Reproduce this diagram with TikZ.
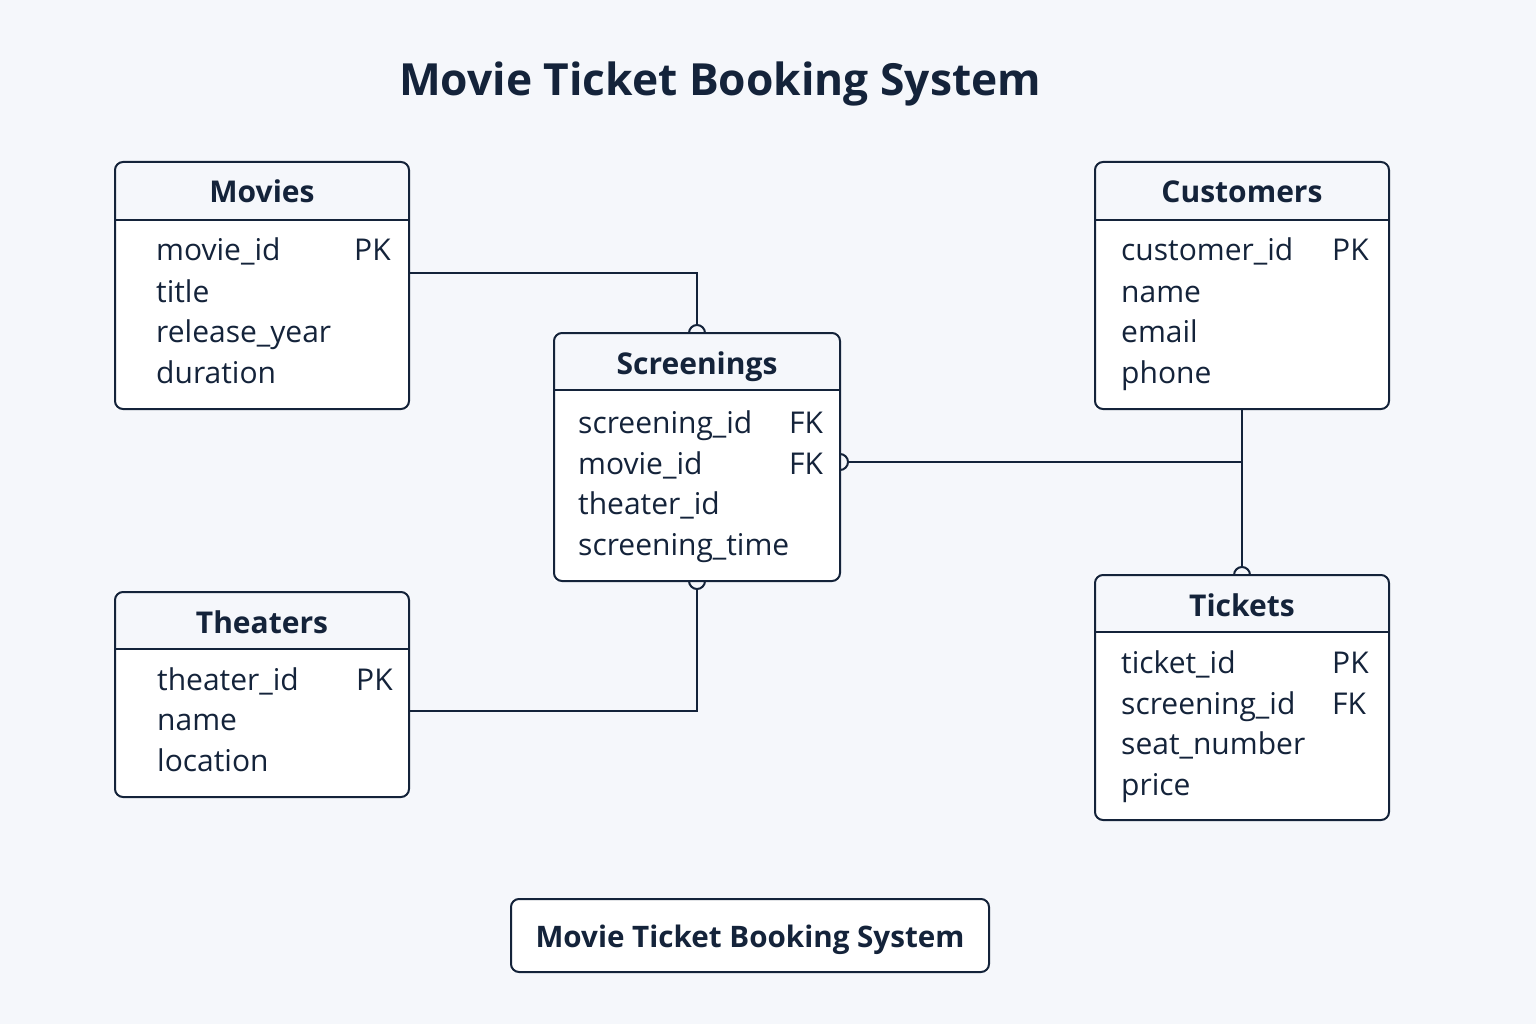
\documentclass[tikz,border=0pt]{standalone}
\usepackage{fontspec}
\setmainfont{Open Sans}
\definecolor{bgc}{HTML}{F5F7FB}
\definecolor{ink}{HTML}{14233A}
\tikzset{
  box/.style={rectangle, fill=white, inner sep=0pt, outer sep=0pt},
  edge/.style={draw=ink, line width=2pt},
  conn/.style={draw=ink, line width=2pt},
  fld/.style={text=ink, font=\fontsize{30}{34}\selectfont, inner sep=0pt, anchor=base west},
  hdr/.style={text=ink, font=\fontsize{30}{34}\selectfont\bfseries, inner sep=0pt, anchor=base},
}
\newcommand\erbox[6]{%
  \node[box, minimum width=#4pt, minimum height=#5pt] (#1) at (#2,-#3) {};
  \begin{scope}
    \clip[rounded corners=8pt] (#1.north west) rectangle (#1.south east);
    \fill[bgc] (#1.north west) rectangle ([yshift=-#6pt]#1.north east);
  \end{scope}
  \draw[edge] ([yshift=-#6pt]#1.north west) -- ([yshift=-#6pt]#1.north east);
  \draw[edge, rounded corners=8pt] (#1.north west) rectangle (#1.south east);
}
\begin{document}
\begin{tikzpicture}[x=1pt,y=1pt]
\fill[bgc] (0,0) rectangle (1536,-1024);
\useasboundingbox (0,0) rectangle (1536,-1024);

\node[hdr, font=\fontsize{44.3}{50}\selectfont\bfseries] (title) at (720,-96) {Movie Ticket Booking System};

% Movies
\erbox{movies}{262}{285.5}{294}{247}{58}
\node[hdr] (moviesT) at (262,-203) {Movies};
\node[fld] (m1) at (156,-261) {movie\_id};
\node[fld] (m1k) at (354,-261) {PK};
\node[fld] (m2) at (156,-302) {title};
\node[fld] (m3) at (156,-342) {release\_year};
\node[fld] (m4) at (156,-383) {duration};

% Customers
\erbox{customers}{1242}{285.5}{294}{247}{58}
\node[hdr] (customersT) at (1242,-203) {Customers};
\node[fld] (c1) at (1121,-261) {customer\_id};
\node[fld] (c1k) at (1332,-261) {PK};
\node[fld] (c2) at (1121,-302) {name};
\node[fld] (c3) at (1121,-342) {email};
\node[fld] (c4) at (1121,-383) {phone};

% Screenings
\erbox{screenings}{697}{457}{286}{248}{57}
\node[hdr] (screeningsT) at (697,-374) {Screenings};
\node[fld] (s1) at (578,-433) {screening\_id};
\node[fld] (s1k) at (789,-433) {FK};
\node[fld] (s2) at (578,-474) {movie\_id};
\node[fld] (s2k) at (789,-474) {FK};
\node[fld] (s3) at (578,-514) {theater\_id};
\node[fld] (s4) at (578,-555) {screening\_time};

% Theaters
\erbox{theaters}{262}{694.5}{294}{205}{57}
\node[hdr] (theatersT) at (262,-633) {Theaters};
\node[fld] (t1) at (157,-690) {theater\_id};
\node[fld] (t1k) at (356,-690) {PK};
\node[fld] (t2) at (157,-730) {name};
\node[fld] (t3) at (157,-771) {location};

% Tickets
\erbox{tickets}{1242}{697.5}{294}{245}{57}
\node[hdr] (ticketsT) at (1242,-616) {Tickets};
\node[fld] (k1) at (1121,-673) {ticket\_id};
\node[fld] (k1k) at (1332,-673) {PK};
\node[fld] (k2) at (1121,-714) {screening\_id};
\node[fld] (k2k) at (1332,-714) {FK};
\node[fld] (k3) at (1121,-754) {seat\_number};
\node[fld] (k4) at (1121,-795) {price};

% Footer
\node[box, minimum width=478pt, minimum height=73pt] (footer) at (750,-935.5) {};
\draw[edge, rounded corners=8pt] (footer.north west) rectangle (footer.south east);
\node[hdr, font=\fontsize{29.6}{34}\selectfont\bfseries] (footerT) at (750,-947) {Movie Ticket Booking System};

% Connectors
\draw[conn] ([yshift=12.5pt]movies.east) -| ([yshift=8pt]screenings.north);
\draw[conn] ([xshift=-8pt]screenings.north) arc[start angle=180, end angle=0, radius=8pt];

\draw[conn] ([yshift=-16.5pt]theaters.east) -| ([yshift=-8pt]screenings.south);
\draw[conn] ([xshift=-8pt]screenings.south) arc[start angle=180, end angle=360, radius=8pt];

\coordinate (jn) at ([yshift=-5pt]customers.south |- screenings.east);
\draw[conn] ([xshift=8pt,yshift=-5pt]screenings.east) -- (jn);
\draw[conn] ([yshift=3pt]screenings.east) arc[start angle=90, end angle=-90, radius=8pt];
\draw[conn] (customers.south) -- ([yshift=8pt]tickets.north);
\draw[conn] ([xshift=-8pt]tickets.north) arc[start angle=180, end angle=0, radius=8pt];
\end{tikzpicture}
\end{document}
